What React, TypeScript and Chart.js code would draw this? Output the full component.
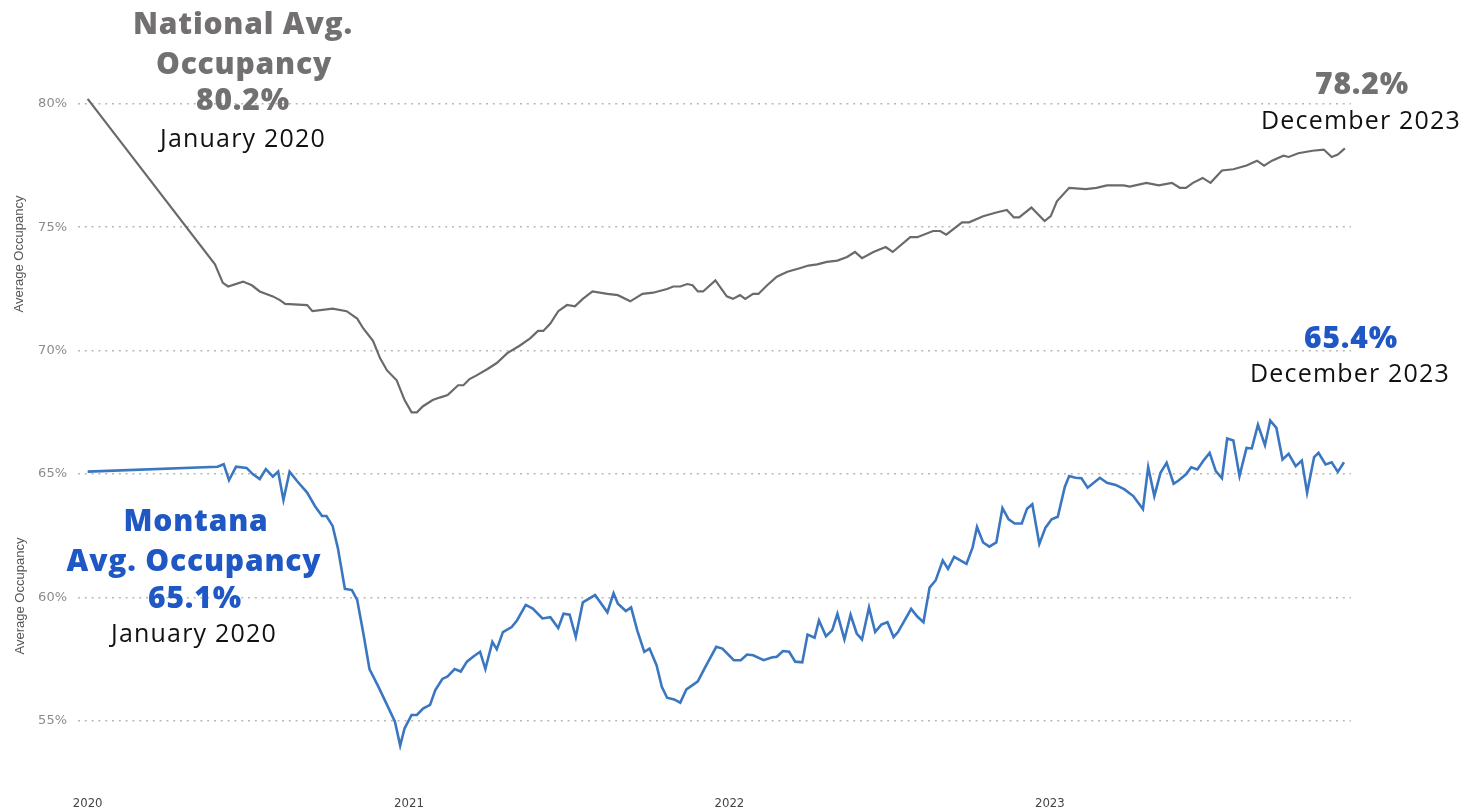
import React, { useEffect, useRef } from "react";
import { Chart, registerables } from "chart.js";

Chart.register(...registerables);

// x values are days counted from 1 January 2020
const yearTickDays = [0, 366, 731, 1096];
const yearTickLabels = ["2020", "2021", "2022", "2023"];
const yTickValues = [55, 60, 65, 70, 75, 80];

const nationalDays = [
  0, 145, 154, 160, 177, 187, 196, 211, 219, 225, 250, 256, 279, 295, 307, 314, 325, 333, 341, 352,
  361, 369, 375, 382, 393, 401, 410, 422, 428, 435, 443, 455, 466, 478, 492, 504, 513, 519, 527, 536,
  546, 555, 564, 575, 592, 604, 618, 632, 644, 660, 667, 675, 683, 689, 695, 701, 715, 728, 735, 743,
  749, 758, 764, 774, 785, 797, 812, 821, 831, 842, 854, 865, 874, 882, 895, 909, 917, 937, 945, 963,
  971, 978, 996, 1004, 1020, 1035, 1047, 1055, 1061, 1075, 1090, 1097, 1104, 1118, 1137, 1149, 1161, 1180, 1187, 1206,
  1220, 1235, 1244, 1251, 1259, 1270, 1279, 1292, 1305, 1320, 1332, 1340, 1349, 1362, 1368, 1379, 1395, 1408, 1417, 1424,
  1432,
];
const nationalValues = [
  80.2, 73.5, 72.75, 72.6, 72.8, 72.65, 72.4, 72.2, 72.05, 71.9, 71.85, 71.6, 71.7, 71.6, 71.3, 70.9, 70.4, 69.7, 69.2, 68.8,
  68.0, 67.5, 67.5, 67.75, 68.0, 68.1, 68.2, 68.6, 68.6, 68.85, 69.0, 69.25, 69.5, 69.9, 70.2, 70.5, 70.8, 70.8, 71.1, 71.6,
  71.85, 71.8, 72.1, 72.4, 72.3, 72.25, 72.0, 72.3, 72.35, 72.5, 72.6, 72.6, 72.7, 72.65, 72.4, 72.4, 72.85, 72.2, 72.1, 72.25,
  72.1, 72.3, 72.3, 72.65, 73.0, 73.2, 73.35, 73.45, 73.5, 73.6, 73.65, 73.8, 74.0, 73.75, 74.0, 74.2, 74.0, 74.6, 74.6, 74.85,
  74.85, 74.7, 75.2, 75.2, 75.45, 75.6, 75.7, 75.4, 75.4, 75.8, 75.25, 75.45, 76.05, 76.6, 76.55, 76.6, 76.7, 76.7, 76.65, 76.8,
  76.7, 76.8, 76.6, 76.6, 76.8, 77.0, 76.8, 77.3, 77.35, 77.5, 77.7, 77.5, 77.7, 77.9, 77.85, 78.0, 78.1, 78.15, 77.85, 77.95,
  78.2,
];

const montanaDays = [
  0, 148, 155, 161, 169, 181, 188, 196, 203, 211, 217, 223, 230, 239, 250, 259, 267, 272, 279, 285,
  293, 301, 307, 314, 321, 331, 341, 350, 356, 361, 369, 375, 382, 390, 396, 404, 410, 418, 425, 432,
  439, 447, 453, 461, 466, 473, 483, 489, 499, 507, 518, 527, 536, 542, 549, 556, 564, 578, 592, 599,
  604, 613, 619, 626, 634, 640, 648, 654, 660, 668, 675, 682, 689, 695, 703, 716, 723, 736, 744, 751,
  758, 770, 779, 785, 792, 799, 806, 814, 820, 828, 833, 841, 848, 854, 862, 869, 876, 882, 890, 897,
  904, 911, 918, 923, 938, 945, 952, 959, 966, 974, 980, 987, 994, 1001, 1008, 1013, 1020, 1027, 1035, 1042,
  1049, 1056, 1064, 1070, 1076, 1084, 1091, 1098, 1105, 1113, 1118, 1125, 1132, 1139, 1146, 1153, 1161, 1171, 1181, 1191,
  1202, 1208, 1215, 1222, 1229, 1237, 1243, 1251, 1257, 1264, 1271, 1278, 1285, 1292, 1298, 1305, 1312, 1320, 1326, 1333,
  1341, 1347, 1354, 1361, 1368, 1376, 1383, 1389, 1397, 1402, 1410, 1417, 1424, 1431,
];
const montanaValues = [
  65.1, 65.3, 65.4, 64.75, 65.3, 65.25, 65.0, 64.8, 65.2, 64.9, 65.1, 63.95, 65.1, 64.7, 64.25, 63.7, 63.3, 63.3, 62.9, 62.0,
  60.35, 60.3, 59.9, 58.55, 57.1, 56.4, 55.65, 54.97, 54.0, 54.7, 55.24, 55.24, 55.5, 55.65, 56.25, 56.7, 56.8, 57.1, 57.0, 57.4,
  57.6, 57.8, 57.1, 58.2, 57.9, 58.6, 58.8, 59.07, 59.7, 59.55, 59.15, 59.2, 58.76, 59.34, 59.3, 58.4, 59.8, 60.1, 59.4, 60.17,
  59.75, 59.45, 59.6, 58.67, 57.8, 57.93, 57.26, 56.38, 55.94, 55.87, 55.74, 56.28, 56.45, 56.6, 57.15, 58.0, 57.93, 57.46, 57.46, 57.69,
  57.66, 57.46, 57.57, 57.6, 57.83, 57.8, 57.4, 57.37, 58.5, 58.37, 59.07, 58.43, 58.67, 59.34, 58.3, 59.3, 58.54, 58.3, 59.6, 58.6,
  58.9, 59.0, 58.4, 58.6, 59.54, 59.23, 59.0, 60.4, 60.7, 61.5, 61.16, 61.65, 61.5, 61.36, 62.03, 62.86, 62.23, 62.06, 62.23, 63.62,
  63.17, 63.0, 63.0, 63.6, 63.78, 62.17, 62.83, 63.17, 63.27, 64.48, 64.92, 64.85, 64.83, 64.45, 64.65, 64.85, 64.65, 64.56, 64.38, 64.11,
  63.58, 65.28, 64.11, 65.05, 65.46, 64.61, 64.75, 64.99, 65.28, 65.19, 65.55, 65.86, 65.12, 64.83, 66.44, 66.36, 64.92, 66.06, 66.04, 67.0,
  66.17, 67.17, 66.87, 65.59, 65.82, 65.32, 65.55, 64.25, 65.69, 65.86, 65.39, 65.48, 65.09, 65.48,
];

const GRAY_TEXT = "#727070";
const BLUE_TEXT = "#1f58c4";

type LabelProps = {
  cx: number;
  cy: number;
  text: string;
  color: string;
  size: number;
  bold?: boolean;
  spacing?: number;
};

function Label({ cx, cy, text, color, size, bold, spacing }: LabelProps) {
  return (
    <div
      style={{
        position: "absolute",
        left: cx,
        top: cy,
        transform: "translate(-50%, -50%)",
        whiteSpace: "nowrap",
        fontFamily: '"Open Sans", "Noto Sans", sans-serif',
        fontWeight: bold ? 800 : 400,
        fontSize: size,
        lineHeight: 1,
        letterSpacing: spacing ?? 0,
        color,
      }}
    >
      {text}
    </div>
  );
}

function AxisTitle({ cx, cy }: { cx: number; cy: number }) {
  return (
    <div
      style={{
        position: "absolute",
        left: cx,
        top: cy,
        transform: "translate(-50%, -50%) rotate(-90deg)",
        whiteSpace: "nowrap",
        fontFamily: '"Liberation Sans", Arial, sans-serif',
        fontSize: 13,
        lineHeight: 1,
        color: "#555555",
      }}
    >
      Average Occupancy
    </div>
  );
}

export default function App() {
  const canvasRef = useRef<HTMLCanvasElement | null>(null);

  useEffect(() => {
    const canvas = canvasRef.current;
    if (!canvas) return;
    const chart = new Chart(canvas, {
      type: "line",
      data: {
        datasets: [
          {
            label: "National Avg. Occupancy",
            data: nationalDays.map((d, i) => ({ x: d, y: nationalValues[i] })),
            borderColor: "#6a6a6a",
            borderWidth: 2.2,
            pointRadius: 0,
            tension: 0,
            fill: false,
          },
          {
            label: "Montana Avg. Occupancy",
            data: montanaDays.map((d, i) => ({ x: d, y: montanaValues[i] })),
            borderColor: "#3b77c0",
            borderWidth: 2.6,
            pointRadius: 0,
            tension: 0,
            fill: false,
          },
        ],
      },
      options: {
        animation: false,
        responsive: false,
        layout: { padding: { top: 95, right: 115, left: 0, bottom: 0 } },
        plugins: {
          legend: { display: false },
          tooltip: { enabled: false },
        },
        scales: {
          x: {
            type: "linear",
            min: -11,
            max: 1439,
            grid: { display: false, drawTicks: false },
            border: { display: false },
            afterBuildTicks: (scale: any) => {
              scale.ticks = yearTickDays.map((v) => ({ value: v }));
            },
            afterFit: (scale: any) => {
              scale.height = 21;
            },
            ticks: {
              autoSkip: false,
              maxRotation: 0,
              padding: 6,
              color: "#444444",
              font: {
                family: '"Liberation Sans Narrow", "DejaVu Sans Condensed", "Liberation Sans", sans-serif',
                size: 13,
              },
              callback: (value: any) => {
                const idx = yearTickDays.indexOf(Number(value));
                return idx >= 0 ? yearTickLabels[idx] : "";
              },
            },
          },
          y: {
            type: "linear",
            min: 52.2,
            max: 80.36,
            afterBuildTicks: (scale: any) => {
              scale.ticks = yTickValues.map((v) => ({ value: v }));
            },
            afterFit: (scale: any) => {
              scale.width = 78;
            },
            grid: { color: "#b8b8b8", lineWidth: 1.6, drawTicks: false },
            border: { display: false, dash: [2, 4.8] },
            ticks: {
              padding: 11,
              color: "#8c8c8c",
              font: { family: '"DejaVu Sans", sans-serif', size: 13 },
              callback: (value: any) => `${value}%`,
            },
          },
        },
      },
    });
    return () => chart.destroy();
  }, []);

  return (
    <div
      style={{
        position: "fixed",
        left: 0,
        top: 0,
        width: 1466,
        height: 811,
        background: "#ffffff",
        overflow: "hidden",
      }}
    >
      <canvas ref={canvasRef} width={1466} height={811} style={{ display: "block" }} />
      <AxisTitle cx={18} cy={254} />
      <AxisTitle cx={19} cy={596} />

      <Label cx={243} cy={23} text="National Avg." color={GRAY_TEXT} size={30} bold spacing={0.8} />
      <Label cx={244} cy={63} text="Occupancy" color={GRAY_TEXT} size={30} bold spacing={0.8} />
      <Label cx={243} cy={99} text="80.2%" color={GRAY_TEXT} size={30} bold spacing={0.8} />
      <Label cx={243} cy={137} text="January 2020" color="#111111" size={25} spacing={1.2} />

      <Label cx={1362} cy={83} text="78.2%" color={GRAY_TEXT} size={30} bold spacing={0.8} />
      <Label cx={1361} cy={119} text="December 2023" color="#111111" size={25} spacing={1.2} />

      <Label cx={1351} cy={337} text="65.4%" color={BLUE_TEXT} size={30} bold spacing={0.8} />
      <Label cx={1350} cy={372} text="December 2023" color="#111111" size={25} spacing={1.2} />

      <Label cx={196} cy={520} text="Montana" color={BLUE_TEXT} size={30} bold spacing={0.8} />
      <Label cx={194} cy={560} text="Avg. Occupancy" color={BLUE_TEXT} size={30} bold spacing={0.8} />
      <Label cx={195} cy={597} text="65.1%" color={BLUE_TEXT} size={30} bold spacing={0.8} />
      <Label cx={194} cy={632} text="January 2020" color="#111111" size={25} spacing={1.2} />
    </div>
  );
}
